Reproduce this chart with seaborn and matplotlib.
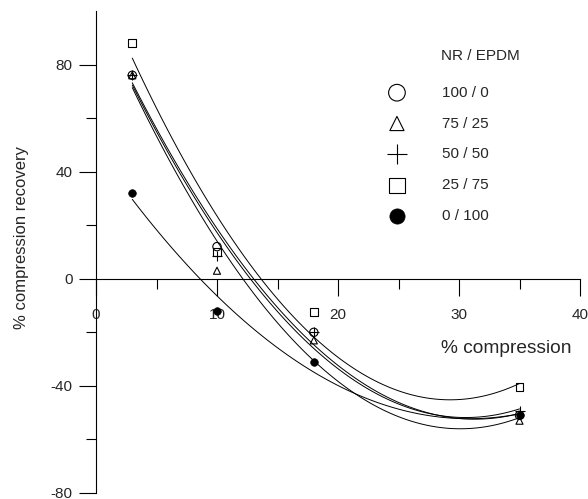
import numpy as np
import pandas as pd
import matplotlib
matplotlib.use("Agg")
import matplotlib.pyplot as plt
import seaborn as sns

# 数据
compression = [3, 10, 18, 35]
nr100 = [76, 12, -20, -51]
nr75 = [76, 3, -23, -53]
nr50 = [76, 8.5, -20, -49.5]
nr25 = [88, 10, -12.5, -40.5]
nr0 = [32, -12, -31, -51]

labels = ["100 / 0", "75 / 25", "50 / 50", "25 / 75", "0 / 100"]
series = [nr100, nr75, nr50, nr25, nr0]

rows = []
for lab, vals in zip(labels, series):
    for x, y in zip(compression, vals):
        rows.append((lab, x, y))
df = pd.DataFrame(rows, columns=["blend", "compression", "recovery"])

sns.set_style("white")
plt.rcParams["font.family"] = ["Liberation Sans", "DejaVu Sans"]
plt.rcParams["axes.unicode_minus"] = False

fig = plt.figure(figsize=(5.88, 4.99), dpi=100)
ax = fig.add_axes([96 / 588, 6 / 499, 484 / 588, 482 / 499])

styles = {
    "100 / 0": dict(marker="o", s=36, facecolor="none", edgecolor="black", linewidth=0.8),
    "75 / 25": dict(marker="^", s=26, facecolor="none", edgecolor="black", linewidth=0.8),
    "50 / 50": dict(marker="+", s=50, color="black", linewidth=0.8),
    "25 / 75": dict(marker="s", s=30, facecolor="none", edgecolor="black", linewidth=0.8),
    "0 / 100": dict(marker="o", s=30, color="black", edgecolor="black", linewidth=0.5),
}

handles = []
for lab in labels:
    sub = df[df["blend"] == lab]
    # 二次拟合曲线
    sns.regplot(data=sub, x="compression", y="recovery", order=2, ci=None,
                scatter=False, truncate=True, ax=ax,
                line_kws=dict(color="black", lw=0.7))
    h = ax.scatter(sub["compression"], sub["recovery"], zorder=3, label=lab, **styles[lab])
    handles.append(h)

ax.set_xlim(0, 40)
ax.set_ylim(-80, 100)

# 坐标轴样式
for side in ["top", "right"]:
    ax.spines[side].set_visible(False)
ax.spines["bottom"].set_position(("data", 0))
ax.spines["left"].set_bounds(-80, 100)
ax.spines["bottom"].set_bounds(0, 40)
for sp in ["left", "bottom"]:
    ax.spines[sp].set_linewidth(0.8)
    ax.spines[sp].set_color("black")

ax.set_xticks([0, 10, 20, 30, 40])
ax.set_xticks([5, 15, 25, 35], minor=True)
ax.set_yticks([-80, -40, 0, 40, 80])
ax.set_yticks([-60, -20, 20, 60], minor=True)
ax.tick_params(axis="both", which="both", direction="out", color="black", width=0.8, labelsize=11)
ax.tick_params(axis="both", which="major", length=12)
ax.tick_params(axis="both", which="minor", length=7)
ax.tick_params(axis="y", which="major", pad=5)
ax.tick_params(axis="x", which="major", pad=9)
ax.xaxis.set_ticks_position("bottom")
ax.yaxis.set_ticks_position("left")

ax.set_ylabel("% compression recovery", fontsize=12)
ax.yaxis.label.set_va("center")
ax.yaxis.set_label_coords(-0.153, 0.53)
ax.set_xlabel("% compression", fontsize=13.8)
ax.xaxis.label.set_va("center")
ax.xaxis.label.set_ha("center")
ax.xaxis.set_label_coords(0.847, 0.30)

# 图例
ax.text(0.713, 0.907, "NR / EPDM", transform=ax.transAxes, fontsize=11, va="center", ha="left")
leg = ax.legend(handles=handles, labels=labels, loc="upper left",
                bbox_to_anchor=(0.606, 0.845), frameon=False, fontsize=11,
                markerscale=2.0, labelspacing=1.1, handletextpad=2.45, handlelength=1.0,
                borderaxespad=0, borderpad=0)

fig.savefig("out.png", dpi=100)
